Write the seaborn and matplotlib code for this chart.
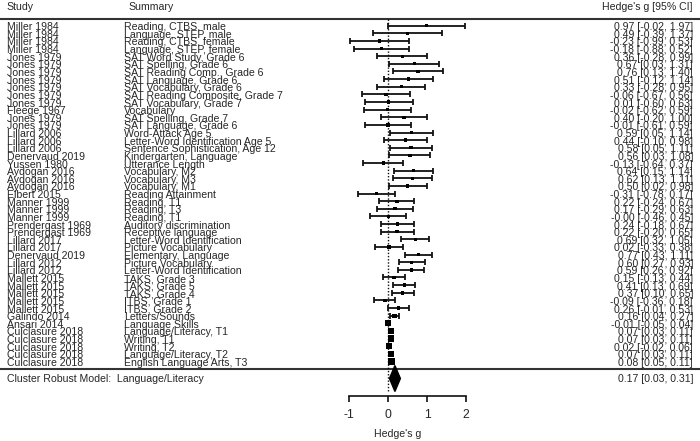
import numpy as np
import pandas as pd
import seaborn as sns
import matplotlib.pyplot as plt
from matplotlib.patches import Polygon

studies = ['Miller 1984', 'Miller 1984', 'Miller 1984', 'Miller 1984',
           'Jones 1979', 'Jones 1979', 'Jones 1979', 'Jones 1979', 'Jones 1979', 'Jones 1979', 'Jones 1979',
           'Fleege 1967', 'Jones 1979', 'Jones 1979',
           'Lillard 2006', 'Lillard 2006', 'Lillard 2006', 'Denervaud 2019', 'Yussen 1980',
           'Aydogan 2016', 'Aydogan 2016', 'Aydogan 2016', 'Elbert 2015',
           'Manner 1999', 'Manner 1999', 'Manner 1999', 'Prendergast 1969', 'Prendergast 1969',
           'Lillard 2017', 'Lillard 2017', 'Denervaud 2019', 'Lillard 2012', 'Lillard 2012',
           'Mallett 2015', 'Mallett 2015', 'Mallett 2015', 'Mallett 2015', 'Mallett 2015',
           'Galindo 2014', 'Ansari 2014',
           'Culclasure 2018', 'Culclasure 2018', 'Culclasure 2018', 'Culclasure 2018', 'Culclasure 2018']

summaries = ['Reading, CTBS, male', 'Language, STEP, male', 'Reading, CTBS, female', 'Language, STEP, female',
             'SAT Word Study, Grade 6', 'SAT Spelling, Grade 6', 'SAT Reading Comp., Grade 6',
             'SAT Language, Grade 6', 'SAT Vocabulary, Grade 6', 'SAT Reading Composite, Grade 7',
             'SAT Vocabulary, Grade 7', 'Vocabulary', 'SAT Spelling, Grade 7', 'SAT Language, Grade 6',
             'Word-Attack Age 5', 'Letter-Word Identification Age 5', 'Sentence Sophistication, Age 12',
             'Kindergarten, Language', 'Utterance Length',
             'Vocabulary, M2', 'Vocabulary, M3', 'Vocabulary, M1', 'Reading Attainment',
             'Reading, T1', 'Reading, T3', 'Reading, T1', 'Auditory discrimination', 'Receptive language',
             'Letter-Word Identification', 'Picture Vocabulary', 'Elementary, Language',
             'Picture Vocabulary', 'Letter-Word Identification',
             'TAKS, Grade 3', 'TAKS, Grade 5', 'TAKS, Grade 4', 'ITBS, Grade 1', 'ITBS, Grade 2',
             'Letters/Sounds', 'Language Skills',
             'Language/Literacy, T1', 'Writing, T1', 'Writing, T2', 'Language/Literacy, T2',
             'English Language Arts, T3']

g = [0.97, 0.49, -0.23, -0.18, 0.36, 0.67, 0.76, 0.51, 0.33, -0.06, 0.01, -0.02, 0.40, -0.01,
     0.59, 0.44, 0.58, 0.56, -0.13, 0.64, 0.62, 0.50, -0.31, 0.22, 0.17, -0.00, 0.24, 0.22,
     0.69, 0.02, 0.77, 0.60, 0.59, 0.15, 0.41, 0.37, -0.09, 0.26, 0.16, -0.01,
     0.07, 0.07, 0.02, 0.07, 0.08]
lo = [-0.02, -0.39, -0.99, -0.88, -0.28, 0.03, 0.13, -0.12, -0.28, -0.67, -0.60, -0.62, -0.20, -0.61,
      0.05, -0.10, 0.05, 0.03, -0.64, 0.15, 0.13, 0.02, -0.78, -0.24, -0.29, -0.46, -0.18, -0.20,
      0.32, -0.33, 0.43, 0.27, 0.26, -0.13, 0.13, 0.10, -0.36, -0.01, 0.04, -0.05,
      0.03, 0.03, -0.02, 0.03, 0.05]
hi = [1.97, 1.37, 0.53, 0.52, 0.99, 1.31, 1.40, 1.14, 0.95, 0.56, 0.63, 0.59, 1.00, 0.59,
      1.14, 0.98, 1.11, 1.08, 0.37, 1.14, 1.11, 0.98, 0.17, 0.67, 0.63, 0.45, 0.67, 0.65,
      1.05, 0.38, 1.11, 0.93, 0.92, 0.44, 0.69, 0.65, 0.18, 0.53, 0.27, 0.04,
      0.11, 0.11, 0.06, 0.11, 0.11]

model_label = 'Cluster Robust Model:  Language/Literacy'
model_g, model_lo, model_hi = 0.17, 0.03, 0.31

df = pd.DataFrame({'study': studies, 'summary': summaries, 'g': g, 'lo': lo, 'hi': hi})
df['row'] = np.arange(len(df))
# point size grows with precision (1/se), rescaled to 0..1
wi = 3.92 / (df['hi'] - df['lo'])
df['psize'] = (wi - wi.min()) / (wi.max() - wi.min())
df['s'] = ((3.2 + df['psize'] * 4.0) * 0.72) ** 2

sns.set_theme(style='white')
plt.rcParams['font.family'] = ['Liberation Sans', 'DejaVu Sans']

fig = plt.figure(figsize=(7, 4.41), dpi=100)
ax = fig.add_axes([0, 0, 1, 1])

# pixel mapping: g=0 at x=388.3, 39 px per unit; row 0 at y=25.7, 7.63 px per row
px_unit, x0 = 39.0, 388.3
row_h, y0 = 7.63, 25.7
ax.set_xlim((0 - x0) / px_unit, (700 - x0) / px_unit)
ax.set_ylim((441 - y0) / row_h, (0 - y0) / row_h)

def prow(py):
    return (py - y0) / row_h

dark = '#111111'

ax.axhline(prow(19), color='#333333', lw=1.5)
ax.axhline(prow(368.5), color='#333333', lw=1.5)
ax.plot([0, 0], [prow(19), prow(392)], color=dark, lw=1, ls=(0, (1, 1.3)))

ax.errorbar(df['g'], df['row'], xerr=[df['g'] - df['lo'], df['hi'] - df['g']],
            fmt='none', ecolor=dark, elinewidth=1.3, capsize=2.2, capthick=1.3)
sns.scatterplot(data=df, x='g', y='row', s=df['s'], marker='s', color='black',
                edgecolor='none', linewidth=0, legend=False, ax=ax, zorder=3)

ym = prow(378.5)
hh = 13 / row_h
ax.add_patch(Polygon([[model_lo, ym], [model_g, ym - hh], [model_hi, ym], [model_g, ym + hh]],
                     closed=True, color='black', zorder=3))

tr = ax.get_yaxis_transform()
fs = 7.6
for r in df.itertuples():
    ax.text(0.0096, r.row + 0.2, r.study, transform=tr, fontsize=fs, va='center', ha='left')
    ax.text(0.177, r.row + 0.2, r.summary, transform=tr, fontsize=fs, va='center', ha='left')
    ax.text(0.99, r.row + 0.2, f'{r.g:.2f} [{r.lo:.2f}, {r.hi:.2f}]', transform=tr,
            fontsize=fs, va='center', ha='right')

hy = prow(6.5)
ax.text(0.0096, hy, 'Study', transform=tr, fontsize=fs, va='center', ha='left')
ax.text(0.184, hy, 'Summary', transform=tr, fontsize=fs, va='center', ha='left')
ax.text(0.989, hy, "Hedge's g [95% CI]", transform=tr, fontsize=fs, va='center', ha='right')

ax.text(0.0105, ym, model_label, transform=tr, fontsize=fs, va='center', ha='left')
ax.text(0.99, ym, f'{model_g:.2f} [{model_lo:.2f}, {model_hi:.2f}]', transform=tr,
        fontsize=fs, va='center', ha='right')

# x axis
for side in ['top', 'left', 'right']:
    ax.spines[side].set_visible(False)
ax.spines['bottom'].set_position(('data', prow(396)))
ax.spines['bottom'].set_bounds(-1, 2)
ax.spines['bottom'].set_color(dark)
ax.spines['bottom'].set_linewidth(1.2)
ax.set_xticks([-1, 0, 1, 2])
ax.set_xticklabels(['-1', '0', '1', '2'])
ax.set_yticks([])
ax.tick_params(axis='x', direction='out', length=4.3, width=1.2, color=dark,
               labelsize=8.8, pad=5, bottom=True)
ax.set_xlabel('')
ax.set_ylabel('')
ax.text((398 - x0) / px_unit, prow(434), "Hedge's g", fontsize=fs, va='center', ha='center')

fig.savefig('out.png', dpi=100)
